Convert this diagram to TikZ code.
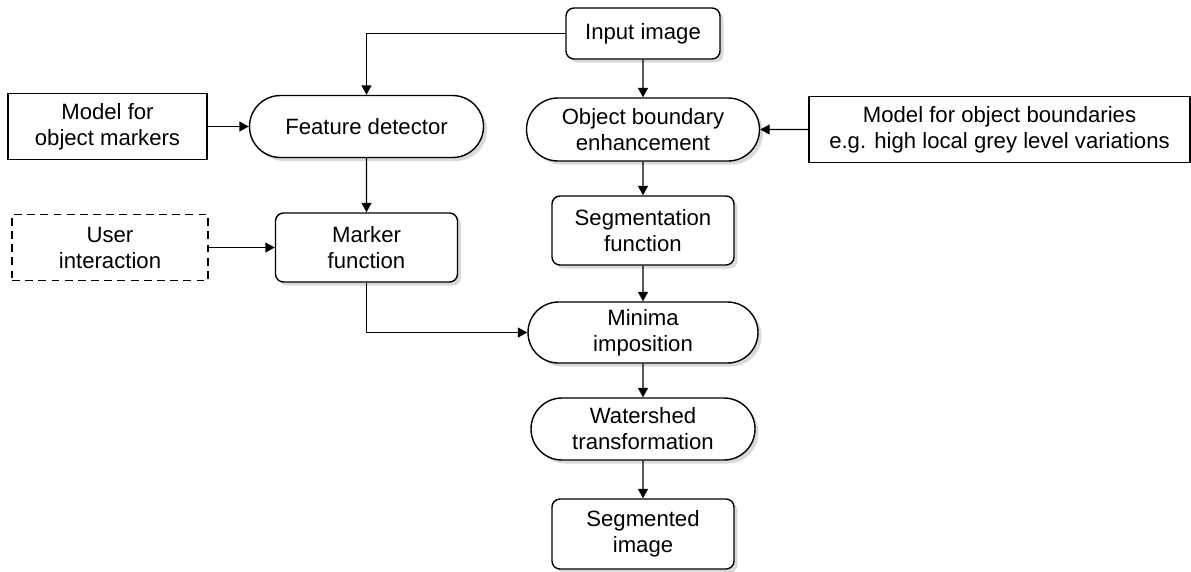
\documentclass[tikz,border=0pt]{standalone}
\usepackage{fontspec}
\setmainfont{Liberation Sans}
\usetikzlibrary{shapes.misc,shadows,arrows.meta}

\begin{document}
\begin{tikzpicture}[line width=0.8pt, >={Triangle[length=0.19cm,width=0.2cm]},
    every node/.style={font=\fontsize{12.6}{14.8}\selectfont, align=center, inner sep=0pt},
    shade/.style={drop shadow={shadow xshift=0.07cm, shadow yshift=-0.07cm, opacity=0.3}},
    procbox/.style={draw, fill=white, rounded corners=0.16cm, minimum width=3.64cm, minimum height=1.38cm, shade},
    termbox/.style={draw, fill=white, rounded rectangle, minimum height=1.24cm, shade},
    modelbox/.style={draw, rectangle, minimum height=1.32cm}]
      \useasboundingbox (0,0) rectangle (23.82,-11.42);

      % main column
      \node[procbox, minimum width=3.08cm, minimum height=1.02cm] (input) at (12.86,-0.67) {Input image};
      \node[termbox, minimum width=4.66cm, minimum height=1.26cm] (boundary) at (12.86,-2.59) {Object boundary\\enhancement};
      \node[procbox] (segfun) at (12.86,-4.61) {Segmentation\\function};
      \node[termbox, minimum width=4.6cm, minimum height=1.22cm] (minima) at (12.86,-6.65) {Minima\\imposition};
      \node[termbox, minimum width=4.48cm] (watershed) at (12.86,-8.58) {Watershed\\transformation};
      \node[procbox, minimum height=1.4cm] (segmented) at (12.86,-10.68) {Segmented\\image};

      % marker branch
      \node[termbox, minimum width=4.68cm] (feature) at (7.33,-2.53) {Feature detector};
      \node[procbox] (marker) at (7.33,-4.95) {Marker\\function};
      \node[modelbox, minimum width=3.98cm] (markermodel) at (2.15,-2.53) {Model for\\object markers};
      \node[modelbox, minimum width=3.92cm, dash pattern=on 4.5pt off 3pt] (user) at (2.20,-4.95) {User\\interaction};
      \node[modelbox, minimum width=7.62cm] (boundmodel) at (19.99,-2.59) {Model for object boundaries\\e.g. high local grey level variations};

      \draw[->] (input) -- (boundary);
      \draw[->] (boundary) -- (segfun);
      \draw[->] (segfun) -- (minima);
      \draw[->] (minima) -- (watershed);
      \draw[->] (watershed) -- (segmented);
      \draw[->] (input.west) -| (feature.north);
      \draw[->] (feature) -- (marker);
      \draw[->] (marker.south) |- (minima.west);
      \draw[->] (markermodel) -- (feature);
      \draw[->] (user) -- (marker);
      \draw[->] (boundmodel) -- (boundary);
    \end{tikzpicture}
\end{document}
